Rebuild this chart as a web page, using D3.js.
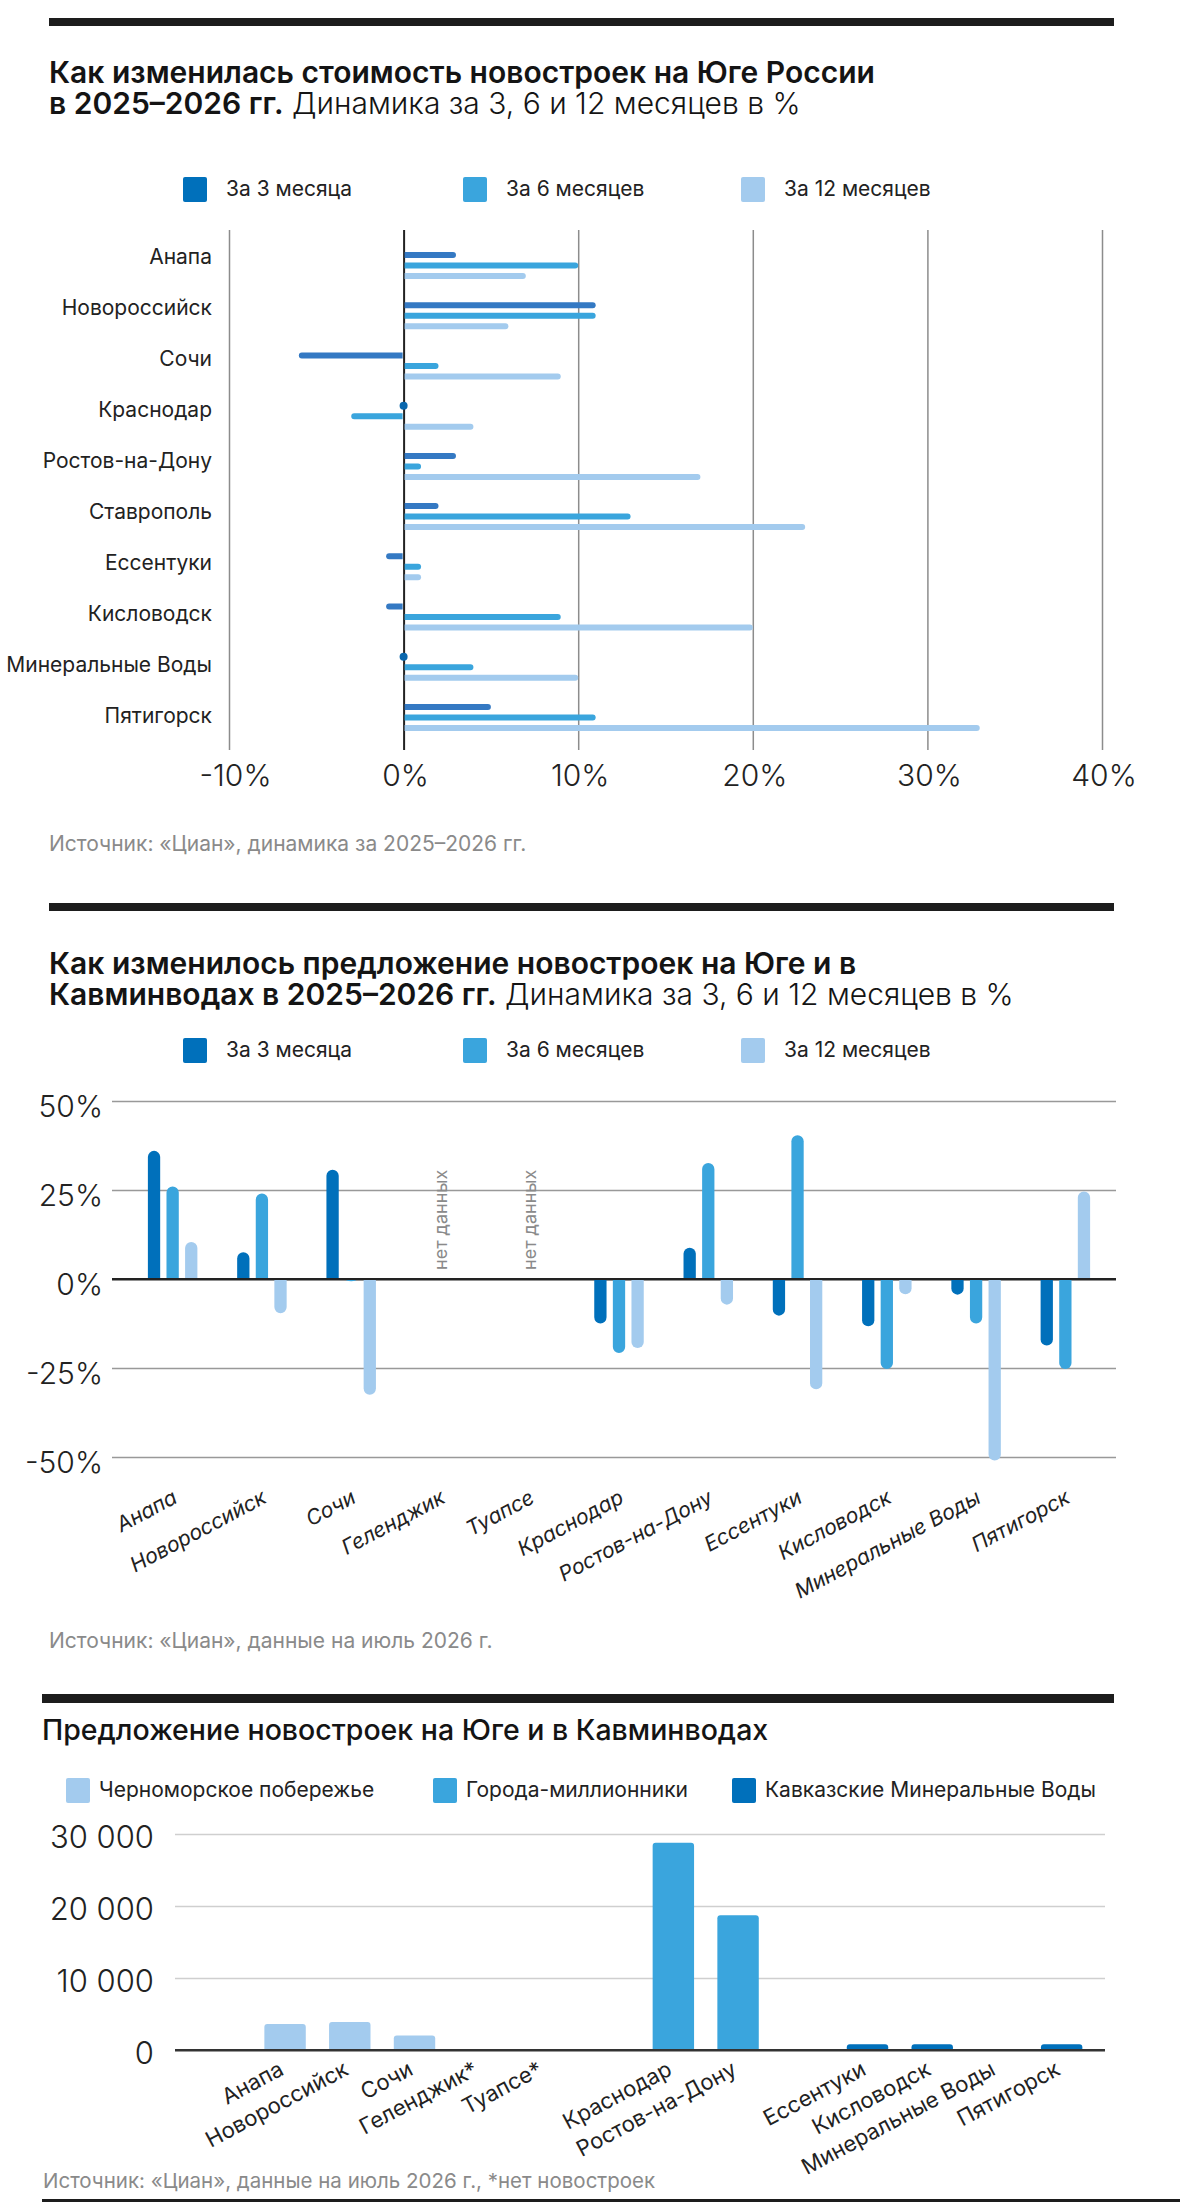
<!DOCTYPE html>
<html lang="ru">
<head>
<meta charset="UTF-8">
<title>Новостройки на Юге</title>
<style>
    body { margin: 0; background: #fff; }
    svg { display: block; font-family: Inter, Roboto, "Noto Sans", sans-serif; }
    .rule { fill: #1d1d1d; }
    .title { font-size: 30px; font-weight: 600; fill: #141414; }
    .title .light { font-weight: 300; }
    .src { font-size: 21px; fill: #8a8a8a; }
    .legend text { font-size: 21px; fill: #222; }
    .tick text { font-size: 30px; font-weight: 300; fill: #222; }
    .cat { font-size: 21px; fill: #222; }
    .nodata { font-size: 18px; fill: #8a8a8a; }
</style>
</head>
<body>
<script src="https://cdn.jsdelivr.net/npm/d3@7"></script>
<script>
    // ---------- data ----------
    var periods = ["За 3 месяца", "За 6 месяцев", "За 12 месяцев"];
    var periodColors = ["#0070bb", "#3aa5dd", "#a3cbee"];

    // chart 1: price change, %
    var priceCities = ["Анапа", "Новороссийск", "Сочи", "Краснодар", "Ростов-на-Дону", "Ставрополь",
        "Ессентуки", "Кисловодск", "Минеральные Воды", "Пятигорск"];
    var price3m = [3, 11, -6, 0, 3, 2, -1, -1, 0, 5];
    var price6m = [10, 11, 2, -3, 1, 13, 1, 9, 4, 11];
    var price12m = [7, 6, 9, 4, 17, 23, 1, 20, 10, 33];
    var priceTicks = [-10, 0, 10, 20, 30, 40];

    // chart 2: supply change, %
    var supplyCities = ["Анапа", "Новороссийск", "Сочи", "Геленджик", "Туапсе", "Краснодар", "Ростов-на-Дону",
        "Ессентуки", "Кисловодск", "Минеральные Воды", "Пятигорск"];
    var supply3m = [36, 7.5, 30.7, null, null, -12.5, 8.8, -10.3, -13.3, -4.4, -18.7];
    var supply6m = [26, 24, -0.6, null, null, -20.8, 32.6, 40.4, -25.3, -12.5, -25.3];
    var supply12m = [10.4, -9.6, -32.5, null, null, -19.4, -7.2, -31, -4.3, -51, 24.6];
    var supplyTicks = [50, 25, 0, -25, -50];

    // chart 3: supply, flats
    var stockGroups = ["Черноморское побережье", "Города-миллионники", "Кавказские Минеральные Воды"];
    var stockColors = ["#a3cbee", "#3aa5dd", "#0070bb"];
    var stockCities = ["Анапа", "Новороссийск", "Сочи", "Геленджик*", "Туапсе*", "Краснодар", "Ростов-на-Дону",
        "Ессентуки", "Кисловодск", "Минеральные Воды", "Пятигорск"];
    var stockValues = [3600, 3900, 2000, 0, 0, 28800, 18700, 800, 800, 100, 800];
    var stockGroupOf = [0, 0, 0, 0, 0, 1, 1, 2, 2, 2, 2];
    var stockTicks = [0, 10000, 20000, 30000];

    // ---------- helpers ----------
    var svg = d3.select("body").append("svg").attr("width", 1180).attr("height", 2202);

    function rule(x, y, w, h) {
        svg.append("rect").attr("class", "rule").attr("x", x).attr("y", y).attr("width", w).attr("height", h);
    }
    function title(x, y, lines, size, weight) {
        var t = svg.append("text").attr("class", "title").attr("x", x).attr("y", y).style("font-size", size + "px");
        if (weight) t.style("font-weight", weight);
        lines.forEach(function (ln, i) {
            var first = true;
            ln.forEach(function (part) {
                var s = t.append("tspan").text(part[0]);
                if (part[1]) s.attr("class", "light");
                if (first) { s.attr("x", x).attr("dy", i ? size + 1 : 0); first = false; }
            });
        });
    }
    function legend(items, colors, xs, yc, size, gap) {
        var g = svg.append("g").attr("class", "legend");
        items.forEach(function (d, i) {
            g.append("rect").attr("x", xs[i]).attr("y", yc - 12).attr("width", 24).attr("height", 25)
                .attr("rx", 2).attr("fill", colors[i]);
            g.append("text").attr("x", xs[i] + gap).attr("y", yc).attr("dy", "0.35em")
                .style("font-size", size + "px").text(d);
        });
    }
    // horizontal bar, round end at xb
    function hBar(xa, xb, yc, h) {
        var r = h / 2, dir = xb >= xa ? 1 : -1;
        var rr = Math.min(r, Math.abs(xb - xa));
        var xe = xb - dir * rr;
        return "M" + xa + "," + (yc - r) + "L" + xe + "," + (yc - r) +
            "A" + rr + "," + r + " 0 0 " + (dir > 0 ? 1 : 0) + " " + xe + "," + (yc + r) +
            "L" + xa + "," + (yc + r) + "Z";
    }
    // vertical bar, round end at yb
    function vBar(xc, w, ya, yb, r) {
        var dir = yb <= ya ? -1 : 1;
        var rr = Math.min(r, Math.abs(yb - ya));
        var x0 = xc - w / 2, x1 = xc + w / 2, ye = yb - dir * rr;
        var sw = dir < 0 ? 1 : 0;
        return "M" + x0 + "," + ya + "L" + x0 + "," + ye +
            "A" + r + "," + rr + " 0 0 " + sw + " " + (x0 + r) + "," + yb +
            "L" + (x1 - r) + "," + yb +
            "A" + r + "," + rr + " 0 0 " + sw + " " + x1 + "," + ye +
            "L" + x1 + "," + ya + "Z";
    }
    function cleanAxis(g, gridColor, zeroColor) {
        g.attr("font-size", null).attr("font-family", null);
        g.select(".domain").remove();
        g.selectAll(".tick line").attr("stroke", function (d) { return d === 0 ? zeroColor : gridColor; })
            .attr("stroke-width", function (d) { return d === 0 ? 2 : 1.5; });
    }

    // ========== chart 1 ==========
    rule(49, 18, 1065, 8);
    title(49, 83, [[["Как изменилась стоимость новостроек на Юге России"]],
        [["в 2025–2026 гг."], [" Динамика за 3, 6 и 12 месяцев в %", true]]], 30);
    legend(periods, periodColors, [183, 463, 741], 189, 21, 43);

    var x1 = d3.scaleLinear().domain([-10, 40]).range([229, 1102]);
    var y1 = d3.scalePoint().domain(priceCities).range([255, 707]);
    var y1lab = d3.scalePoint().domain(priceCities).range([257, 716]);
    var off1 = d3.scalePoint().domain([0, 1, 2]).range([0, 21]);

    var ax1 = svg.append("g").attr("transform", "translate(0,750)")
        .call(d3.axisBottom(x1).tickValues(priceTicks).tickSize(-520).tickPadding(15)
            .tickFormat(function (d) { return d + "%"; }));
    cleanAxis(ax1, "#8c8c8c", "#222");
    ax1.selectAll(".tick text").attr("dx", function (d) { return d < 0 ? "0.2em" : "0.05em"; });

    var priceSeries = [price3m, price6m, price12m];
    var barColors1 = ["#3479c3", "#3aa5dd", "#a3cbee"];
    priceSeries.forEach(function (vals, s) {
        var g = svg.append("g");
        g.selectAll("path").data(vals.map(function (v, i) { return {v: v, c: priceCities[i]}; })
            .filter(function (d) { return d.v !== 0; }))
            .enter().append("path")
            .attr("d", function (d) { return hBar(x1(0) + (d.v > 0 ? 1 : -1), x1(d.v), y1(d.c) + off1(s), 6); })
            .attr("fill", barColors1[s]);
        g.selectAll("circle").data(vals.map(function (v, i) { return {v: v, c: priceCities[i]}; })
            .filter(function (d) { return d.v === 0; }))
            .enter().append("circle")
            .attr("cx", x1(0)).attr("cy", function (d) { return y1(d.c) + off1(s); })
            .attr("r", 4).attr("fill", "#0a67ad");
    });
    svg.append("g").selectAll("text").data(priceCities).enter().append("text")
        .attr("class", "cat").attr("x", 212).attr("y", function (d) { return y1lab(d); })
        .attr("dy", "0.35em").attr("text-anchor", "end").text(function (d) { return d; });

    svg.append("text").attr("class", "src").attr("x", 49).attr("y", 851)
        .text("Источник: «Циан», динамика за 2025–2026 гг.");

    // ========== chart 2 ==========
    rule(49, 903, 1065, 8);
    title(49, 974, [[["Как изменилось предложение новостроек на Юге и в"]],
        [["Кавминводах в 2025–2026 гг."], [" Динамика за 3, 6 и 12 месяцев в %", true]]], 30);
    legend(periods, periodColors, [183, 463, 741], 1050, 21, 43);

    var x2 = d3.scaleBand().domain(supplyCities).range([128, 1110]);
    var x2in = d3.scaleBand().domain([0, 1, 2]).range([-24.75, 24.75]).paddingInner(0.339);
    var y2 = d3.scaleLinear().domain([-50, 50]).range([1457, 1101]);

    var ax2 = svg.append("g").attr("transform", "translate(112,0)")
        .call(d3.axisLeft(y2).tickValues(supplyTicks).tickSize(-1004).tickPadding(9)
            .tickFormat(function (d) { return d + "%"; }));
    cleanAxis(ax2, "#999", "#222");
    ax2.selectAll(".tick text").attr("dy", "0.5em");

    var supplySeries = [supply3m, supply6m, supply12m];
    supplySeries.forEach(function (vals, s) {
        svg.append("g").selectAll("path")
            .data(vals.map(function (v, i) { return {v: v, c: supplyCities[i]}; })
                .filter(function (d) { return d.v !== null; }))
            .enter().append("path")
            .attr("d", function (d) {
                var xc = x2(d.c) + x2.bandwidth() / 2 + x2in(s) + x2in.bandwidth() / 2;
                return vBar(xc, x2in.bandwidth(), y2(0), y2(d.v), x2in.bandwidth() / 2);
            })
            .attr("fill", periodColors[s]);
    });
    // zero line on top
    svg.append("line").attr("x1", 112).attr("x2", 1116).attr("y1", y2(0)).attr("y2", y2(0))
        .attr("stroke", "#222").attr("stroke-width", 2);

    svg.append("g").selectAll("text")
        .data(supplyCities.filter(function (c, i) { return supply3m[i] === null; }))
        .enter().append("text").attr("class", "nodata")
        .attr("transform", function (d) {
            return "translate(" + (x2(d) + x2.bandwidth() / 2) + "," + (y2(0) - 9) + ")rotate(-90)";
        })
        .attr("dy", "0.35em").text("нет данных");

    svg.append("g").selectAll("text").data(supplyCities).enter().append("text")
        .attr("class", "cat").style("font-style", "italic")
        .attr("text-anchor", "end")
        .attr("transform", function (d) {
            return "translate(" + (x2(d) + x2.bandwidth() / 2 + 6) + ",1502)rotate(-28)";
        })
        .text(function (d) { return d; });

    svg.append("text").attr("class", "src").attr("x", 49).attr("y", 1648)
        .text("Источник: «Циан», данные на июль 2026 г.");

    // ========== chart 3 ==========
    rule(42, 1694, 1072, 9);
    title(42, 1740, [[["Предложение новостроек на Юге и в Кавминводах"]]], 28.5, 500);
    legend(stockGroups, stockColors, [66, 433, 732], 1790, 21, 33);

    var slots = [];
    stockGroups.forEach(function (gname, gi) {
        slots.push("_gap" + gi);
        stockCities.forEach(function (c, i) { if (stockGroupOf[i] === gi) slots.push(c); });
    });
    var x3 = d3.scaleBand().domain(slots).range([188, 1094]).paddingInner(0.36).paddingOuter(0.18);
    var y3 = d3.scaleLinear().domain([0, 30000]).range([2050, 1834]);
    var fmt3 = d3.formatLocale({decimal: ",", thousands: " ", grouping: [3], currency: ["", ""]}).format(",");

    var ax3 = svg.append("g").attr("transform", "translate(175,0)")
        .call(d3.axisLeft(y3).tickValues(stockTicks).tickSize(-930).tickPadding(21).tickFormat(fmt3));
    cleanAxis(ax3, "#cfcfcf", "#333");
    ax3.selectAll(".tick text").style("font-size", "31px").attr("dy", "0.45em");

    svg.append("g").selectAll("path")
        .data(stockCities.map(function (c, i) { return {c: c, v: stockValues[i], g: stockGroupOf[i]}; })
            .filter(function (d) { return d.v > 0; }))
        .enter().append("path")
        .attr("d", function (d) {
            return vBar(x3(d.c) + x3.bandwidth() / 2, x3.bandwidth(), y3(0), y3(d.v), 3);
        })
        .attr("fill", function (d) { return stockColors[d.g]; });
    svg.append("line").attr("x1", 175).attr("x2", 1105).attr("y1", y3(0)).attr("y2", y3(0))
        .attr("stroke", "#333").attr("stroke-width", 2);

    svg.append("g").selectAll("text").data(stockCities).enter().append("text")
        .attr("class", "cat").style("font-size", "22px").attr("text-anchor", "end")
        .attr("transform", function (d) {
            return "translate(" + (x3(d) + x3.bandwidth() / 2) + ",2074)rotate(-28)";
        })
        .text(function (d) { return d; });

    svg.append("text").attr("class", "src").attr("x", 43).attr("y", 2188).style("font-size", "20.5px")
        .text("Источник: «Циан», данные на июль 2026 г., *нет новостроек");
    rule(42, 2199, 1138, 3);
</script>
</body>
</html>
